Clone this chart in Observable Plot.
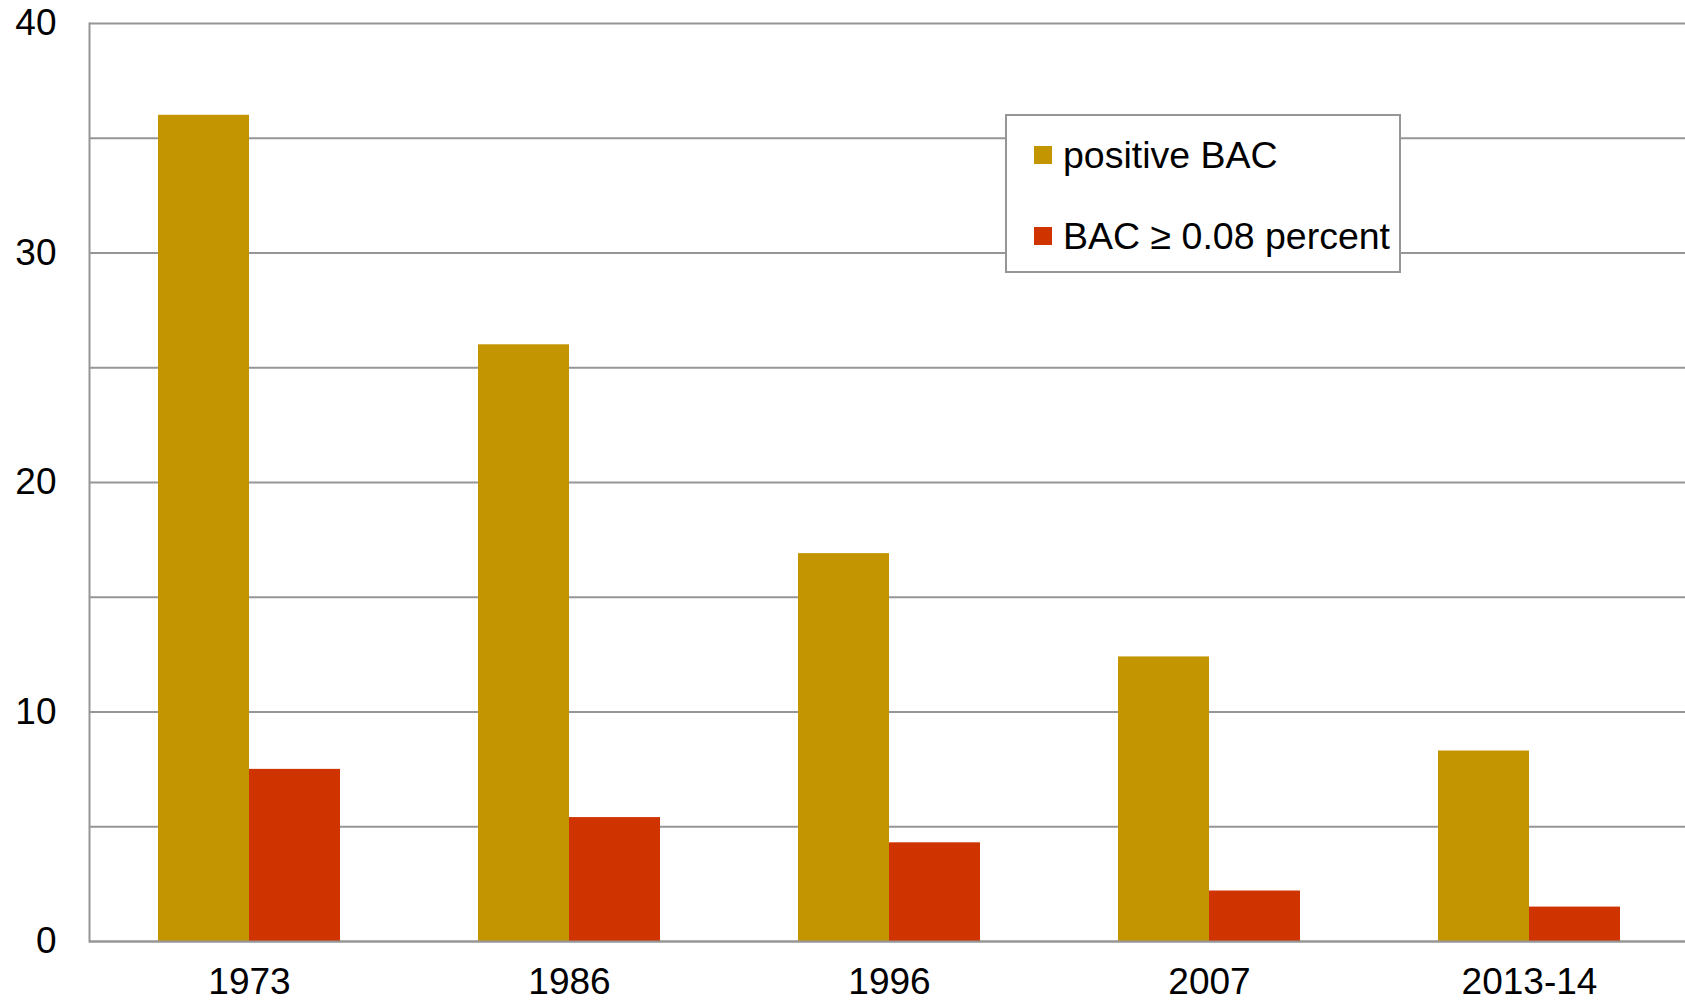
<!DOCTYPE html>
<html>
<head>
<meta charset="utf-8">
<script src="https://cdn.jsdelivr.net/npm/d3@7"></script>
<script src="https://cdn.jsdelivr.net/npm/@observablehq/plot@0.6"></script>
<style>
  html, body { margin: 0; padding: 0; background: #fff; }
  #wrap { position: relative; width: 1685px; height: 1004px; overflow: hidden; font-family: "Liberation Sans", Arial, sans-serif; }
  #legend {
    position: absolute; left: 1005px; top: 114px; width: 392px; height: 155px;
    border: 2px solid #969696; background: #fff;
  }
  .row { position: absolute; left: 27px; height: 38px; display: flex; align-items: center; font-size: 37.5px; line-height: 38px; color: #000; white-space: nowrap; }
  .sw { width: 18px; height: 18px; margin-right: 11px; flex: none; }
</style>
</head>
<body>
<div id="wrap"></div>
<script>
const years = ["1973", "1986", "1996", "2007", "2013-14"];
const positiveBAC = [36, 26, 16.9, 12.4, 8.3];
const bacOver008 = [7.5, 5.4, 4.3, 2.2, 1.5];
const seriesNames = ["positive BAC", "BAC \u2265 0.08 percent"];
const seriesColors = ["#C39500", "#CF3400"];
const yTickLabels = [0, 10, 20, 30, 40];
const gridValues = [0, 5, 10, 15, 20, 25, 30, 35, 40];

const data = [];
years.forEach((yr, i) => {
  data.push({year: yr, series: seriesNames[0], value: positiveBAC[i]});
  data.push({year: yr, series: seriesNames[1], value: bacOver008[i]});
});

const W = 1685, H = 1004;
const mL = 89, mR = -4, mT = 23, mB = 63;
const band = (W - mL - mR) / years.length;
const barW = 91;

const chart = Plot.plot({
  width: W,
  height: H,
  marginLeft: mL,
  marginRight: mR,
  marginTop: mT,
  marginBottom: mB,
  style: {fontFamily: '"Liberation Sans", Arial, sans-serif', fontSize: "37px", color: "#000", background: "#fff"},
  x: {domain: years, padding: 0, label: null},
  y: {domain: [0, 40], label: null},
  color: {domain: seriesNames, range: seriesColors},
  marks: [
    Plot.ruleY(gridValues, {stroke: "#969696", strokeWidth: 1.8}),
    Plot.barY(data.filter(d => d.series === seriesNames[0]), {
      x: "year", y: "value", fill: "series",
      insetLeft: band / 2 - barW, insetRight: band / 2
    }),
    Plot.barY(data.filter(d => d.series === seriesNames[1]), {
      x: "year", y: "value", fill: "series",
      insetLeft: band / 2, insetRight: band / 2 - barW
    }),
    Plot.ruleY([0], {stroke: "#969696", strokeWidth: 2}),
    Plot.frame({anchor: "left", stroke: "#969696", strokeWidth: 2}),
    Plot.axisY({ticks: yTickLabels, tickSize: 0, tickPadding: 33, fontSize: 37, label: null, fill: "#000"}),
    Plot.axisX({tickSize: 0, tickPadding: 26, fontSize: 37, label: null, fill: "#000"})
  ]
});

const wrap = document.getElementById("wrap");
wrap.appendChild(chart);

const legend = document.createElement("div");
legend.id = "legend";
const rowTops = [20, 101];
seriesNames.forEach((name, i) => {
  const row = document.createElement("div");
  row.className = "row";
  row.style.top = rowTops[i] + "px";
  const sw = document.createElement("div");
  sw.className = "sw";
  sw.style.background = seriesColors[i];
  const t = document.createElement("span");
  t.textContent = name;
  row.appendChild(sw);
  row.appendChild(t);
  legend.appendChild(row);
});
wrap.appendChild(legend);
</script>
</body>
</html>
